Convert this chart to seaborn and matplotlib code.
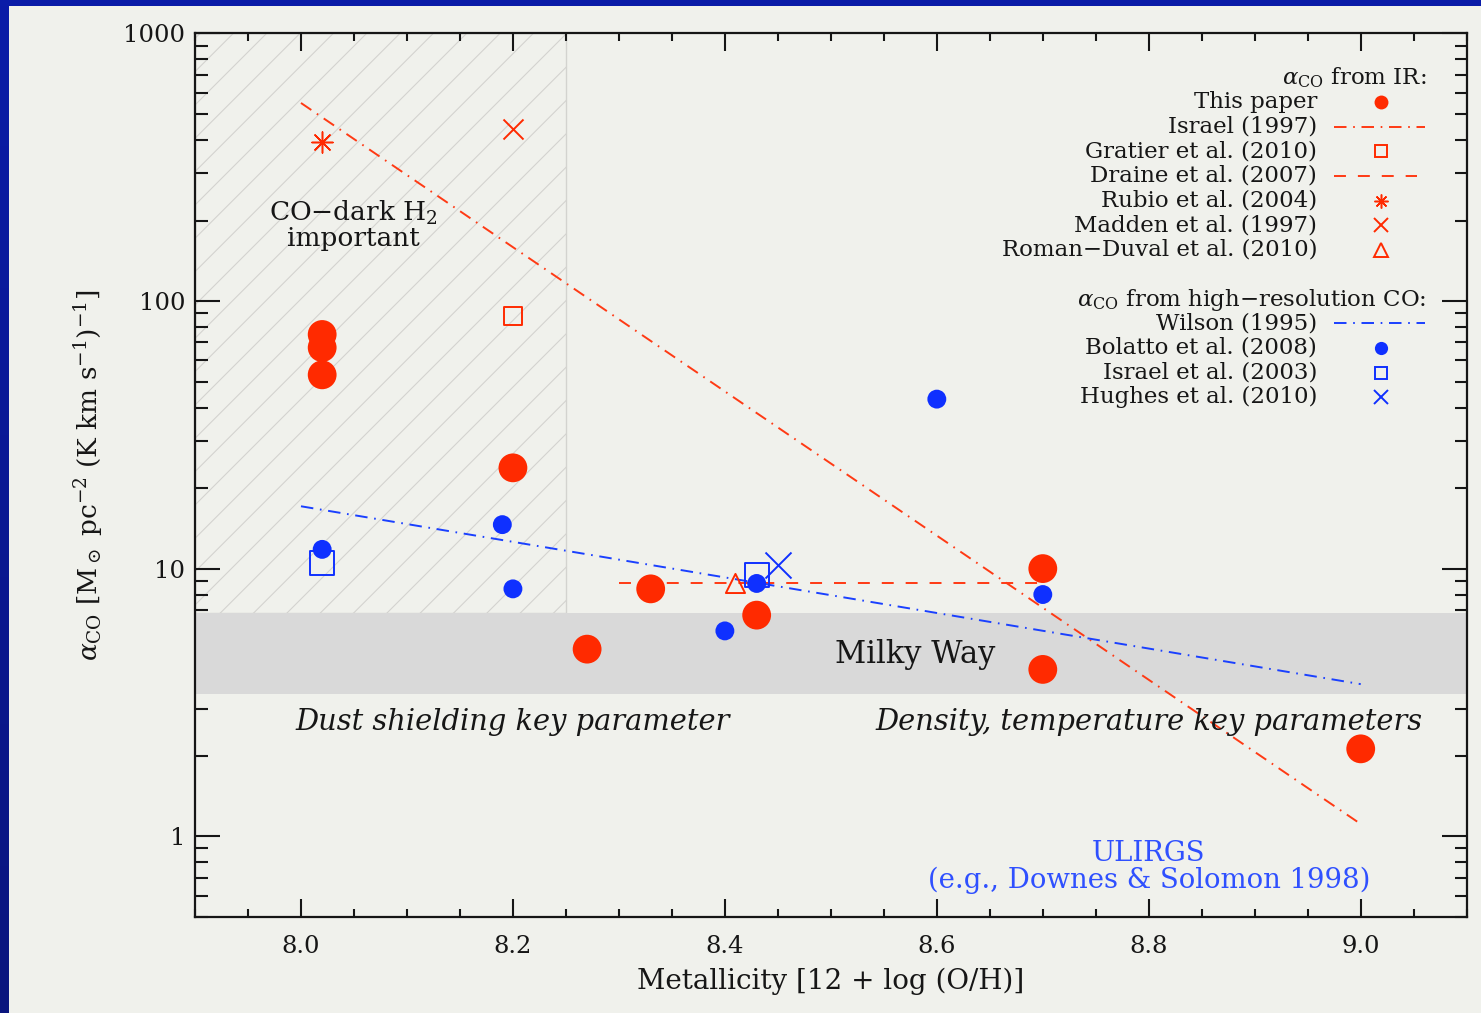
import numpy as np
import matplotlib
matplotlib.use("Agg")
import matplotlib.pyplot as plt
import matplotlib.ticker as mticker
from matplotlib.colors import LinearSegmentedColormap
import seaborn as sns

# ---------------- data: alpha_CO [Msun pc^-2 (K km/s)^-1] vs 12+log(O/H) ----------------
this_paper_z = [8.02, 8.02, 8.02, 8.20, 8.27, 8.33, 8.43, 8.70, 8.70, 9.00]
this_paper_alpha = [75.0, 67.0, 53.0, 23.8, 5.0, 8.4, 6.7, 10.0, 4.2, 2.12]

bolatto_z = [8.02, 8.19, 8.20, 8.40, 8.43, 8.60, 8.70]
bolatto_alpha = [11.8, 14.6, 8.4, 5.85, 8.8, 43.0, 8.0]

israel03_z = [8.02, 8.43]
israel03_alpha = [10.5, 9.45]

hughes_z = [8.45]
hughes_alpha = [10.3]

gratier_z = [8.20]
gratier_alpha = [88.0]

madden_z = [8.20]
madden_alpha = [438.0]

rubio_z = [8.02]
rubio_alpha = [393.0]

roman_duval_z = [8.41]
roman_duval_alpha = [8.8]

israel97_z = [8.0, 9.0]
israel97_alpha = [550.0, 1.11]

draine_z = [8.30, 8.70]
draine_alpha = [8.8, 8.8]

wilson_z = [8.0, 9.0]
wilson_alpha = [17.1, 3.7]

milky_way_alpha = [3.4, 6.8]
co_dark_z = [7.9, 8.25]

x_ticks = [8.0, 8.2, 8.4, 8.6, 8.8, 9.0]
x_tick_labels = ["8.0", "8.2", "8.4", "8.6", "8.8", "9.0"]
y_ticks = [1, 10, 100, 1000]
y_tick_labels = ["1", "10", "100", "1000"]

ir_labels = ["This paper", "Israel (1997)", "Gratier et al. (2010)", "Draine et al. (2007)",
             "Rubio et al. (2004)", "Madden et al. (1997)", "Roman\u2212Duval et al. (2010)"]
co_labels = ["Wilson (1995)", "Bolatto et al. (2008)", "Israel et al. (2003)", "Hughes et al. (2010)"]

# ---------------- style ----------------
BG = "#f0f1ec"
INK = "#161616"
RED = "#ff2a00"
RED_LINE = "#ff3a14"
BLUE = "#0f30ff"
BLUE_LINE = "#1a40ff"
BLUE_TEXT = "#2f50ff"
DASHDOT = (0, (9.0, 4.8, 1.2, 4.8))
DASHED = (0, (8.6, 8.6))
KEY_FS = 16.5

sns.set_theme(style="ticks")
plt.rcParams.update({
    "font.family": ["DejaVu Serif"],
    "mathtext.fontset": "dejavuserif",
    "text.color": INK,
    "axes.labelcolor": INK,
    "xtick.color": INK,
    "ytick.color": INK,
    "lines.scale_dashes": False,
    "hatch.linewidth": 0.8,
    "hatch.color": "#d3d3cf",
})

W, H = 1481, 1013
fig = plt.figure(figsize=(W / 100, H / 100), dpi=100, facecolor=BG)

# slide frame along the left and top edges
cmap = LinearSegmentedColormap.from_list("frame", ["#0a1ca8", "#0a157e"])
frame_left = fig.add_axes([0, 0, 8.4 / W, 1])
frame_left.imshow(np.linspace(0, 1, 256)[:, None], aspect="auto", cmap=cmap)
frame_left.axis("off")
frame_top = fig.add_axes([0, 1 - 5.7 / H, 1, 5.7 / H])
frame_top.set_facecolor("#0a1ca8")
frame_top.set_xticks([]); frame_top.set_yticks([])
for s in frame_top.spines.values():
    s.set_visible(False)

ax = fig.add_axes([195 / W, 1 - 916.7 / H, 1271.7 / W, 883.2 / H])
ax.set_facecolor(BG)
ax.set_yscale("log")
ax.set_xlim(7.9, 9.1)
ax.set_ylim(0.5, 1000)

# shaded regimes
ax.fill_between(co_dark_z, milky_way_alpha[1], 1000, facecolor="none",
                edgecolor="#d3d3cf", hatch="/", linewidth=1.0, zorder=0.5)
ax.axhspan(milky_way_alpha[0], milky_way_alpha[1], color="#d9d9d9", lw=0, zorder=1)

# relations
sns.lineplot(x=israel97_z, y=israel97_alpha, color=RED_LINE, lw=1.4, linestyle=DASHDOT,
             errorbar=None, ax=ax, zorder=2)
sns.lineplot(x=draine_z, y=draine_alpha, color=RED_LINE, lw=1.4, linestyle=DASHED,
             errorbar=None, ax=ax, zorder=2)
sns.lineplot(x=wilson_z, y=wilson_alpha, color=BLUE_LINE, lw=1.4, linestyle=DASHDOT,
             errorbar=None, ax=ax, zorder=2)

# individual measurements
sns.scatterplot(x=israel03_z, y=israel03_alpha, marker="s", s=300, facecolor="none",
                edgecolor=BLUE, linewidth=1.4, ax=ax, zorder=3)
sns.scatterplot(x=hughes_z, y=hughes_alpha, marker="x", s=350, color=BLUE,
                linewidth=1.4, ax=ax, zorder=3)
sns.scatterplot(x=gratier_z, y=gratier_alpha, marker="s", s=170, facecolor="none",
                edgecolor=RED, linewidth=1.4, ax=ax, zorder=3)
sns.scatterplot(x=madden_z, y=madden_alpha, marker="x", s=207, color=RED,
                linewidth=1.4, ax=ax, zorder=3)
sns.scatterplot(x=rubio_z, y=rubio_alpha, marker=(8, 2, 0), s=230, color=RED,
                linewidth=1.1, ax=ax, zorder=3)
sns.scatterplot(x=roman_duval_z, y=roman_duval_alpha, marker="^", s=190, facecolor="none",
                edgecolor=RED, linewidth=1.4, ax=ax, zorder=3)
sns.scatterplot(x=bolatto_z, y=bolatto_alpha, marker="o", s=185, color=BLUE,
                edgecolor="none", linewidth=0, ax=ax, zorder=4)
sns.scatterplot(x=this_paper_z, y=this_paper_alpha, marker="o", s=430, color=RED,
                edgecolor="none", linewidth=0, ax=ax, zorder=4)

# annotations
ax.text(8.049, 192, "CO\u2212dark H$_2$\nimportant", ha="center", va="center",
        fontsize=19, linespacing=0.95, zorder=5)
ax.text(8.58, 4.77, "Milky Way", ha="center", va="center", fontsize=22, zorder=5)
ax.text(8.20, 2.68, "Dust shielding key parameter", ha="center", va="center",
        fontsize=20.8, style="italic", zorder=5)
ax.text(8.80, 2.68, "Density, temperature key parameters", ha="center", va="center",
        fontsize=20.8, style="italic", zorder=5)
ax.text(8.80, 0.765, "ULIRGS\n(e.g., Downes & Solomon 1998)", ha="center", va="center",
        fontsize=19.8, color=BLUE_TEXT, linespacing=1.0, zorder=5)

# key
tA = ax.transAxes
tx, sx, lx0, lx1, hx = 0.8823, 0.9326, 0.8956, 0.9672, 0.9680
row = 0.0279
y_hdr1 = 0.9504
ax.text(hx, y_hdr1, r"$\alpha_{\rm CO}$ from IR:", transform=tA, ha="right", va="center",
        fontsize=KEY_FS)
ir_y = [y_hdr1 - row * (i + 1) for i in range(len(ir_labels))]
for lab, yy in zip(ir_labels, ir_y):
    ax.text(tx, yy, lab, transform=tA, ha="right", va="center", fontsize=KEY_FS)
ax.plot([sx], [ir_y[0]], transform=tA, marker="o", ms=10, color=RED, mec="none", ls="none")
ax.plot([lx0, lx1], [ir_y[1]] * 2, transform=tA, color=RED_LINE, lw=1.4, ls=DASHDOT)
ax.plot([sx], [ir_y[2]], transform=tA, marker="s", ms=9, mfc="none", mec=RED, mew=1.4, ls="none")
ax.plot([lx0, lx1 - 0.006], [ir_y[3]] * 2, transform=tA, color=RED_LINE, lw=1.4, ls=DASHED)
ax.plot([sx], [ir_y[4]], transform=tA, marker=(8, 2, 0), ms=10, color=RED, mew=1.1, ls="none")
ax.plot([sx], [ir_y[5]], transform=tA, marker="x", ms=10, color=RED, mew=1.4, ls="none")
ax.plot([sx], [ir_y[6]], transform=tA, marker="^", ms=10, mfc="none", mec=RED, mew=1.4, ls="none")

y_hdr2 = 0.6984
ax.text(hx, y_hdr2, "$\\alpha_{\\rm CO}$ from high\u2212resolution CO:",
        transform=tA, ha="right", va="center", fontsize=KEY_FS)
co_y = [y_hdr2 - row * (i + 0.95) for i in range(len(co_labels))]
for lab, yy in zip(co_labels, co_y):
    ax.text(tx, yy, lab, transform=tA, ha="right", va="center", fontsize=KEY_FS)
ax.plot([lx0, lx1], [co_y[0]] * 2, transform=tA, color=BLUE_LINE, lw=1.4, ls=DASHDOT)
ax.plot([sx], [co_y[1]], transform=tA, marker="o", ms=9.5, color=BLUE, mec="none", ls="none")
ax.plot([sx], [co_y[2]], transform=tA, marker="s", ms=9, mfc="none", mec=BLUE, mew=1.4, ls="none")
ax.plot([sx], [co_y[3]], transform=tA, marker="x", ms=10, color=BLUE, mew=1.4, ls="none")

# axes, ticks, labels
ax.set_xticks(x_ticks)
ax.set_xticklabels(x_tick_labels)
ax.xaxis.set_minor_locator(mticker.MultipleLocator(0.05))
ax.set_yticks(y_ticks)
ax.set_yticklabels(y_tick_labels)
ax.yaxis.set_minor_locator(mticker.LogLocator(base=10, subs=np.arange(2, 10)))
ax.yaxis.set_minor_formatter(mticker.NullFormatter())
ax.tick_params(which="both", direction="in", top=True, right=True, width=1.5, labelsize=17.5)
ax.tick_params(axis="x", which="major", length=12.7, pad=13)
ax.tick_params(axis="x", which="minor", length=6)
ax.tick_params(axis="y", which="major", length=18, pad=7)
ax.tick_params(axis="y", which="minor", length=9)
for s in ax.spines.values():
    s.set_linewidth(1.6)
    s.set_color(INK)
    s.set_visible(True)

ax.set_xlabel("Metallicity [12 + log (O/H)]", fontsize=20, labelpad=7)
ax.set_ylabel(r"$\alpha_{\rm CO}$ [$\mathrm{M}_\odot$ pc$^{-2}$ (K km s$^{-1}$)$^{-1}$]", fontsize=19,
              labelpad=13)

fig.savefig("out.png", dpi=100, facecolor=BG)
